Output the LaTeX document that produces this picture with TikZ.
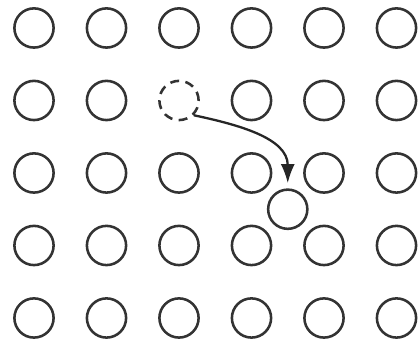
\documentclass[tikz,border=0pt]{standalone}
\usetikzlibrary{arrows.meta}

\begin{document}
\begin{tikzpicture}[
        x=0.9986cm, y=0.9986cm,
        % lattice atom
        atom/.style={circle, draw=black!80, line width=1pt, minimum size=0.54cm, inner sep=0pt},
        vacancy/.style={atom, dash pattern=on 3.5pt off 2.5pt},
        arrow/.style={-{Latex[length=7.5pt,width=5.5pt]}, line width=0.9pt, draw=black!85}
    ]
    \useasboundingbox (-0.469,-0.331) rectangle (5.324,4.386);

    % Gitter (6 x 5), ohne die Leerstelle
    \foreach \c in {0,...,5} {
        \foreach \r in {0,...,4} {
            \ifnum\c=2 \ifnum\r=3 \else
                \node (a-\c-\r) [atom] at (\c,\r) {};
            \fi \else
                \node (a-\c-\r) [atom] at (\c,\r) {};
            \fi
        }
    }

    % Leerstelle und Zwischengitteratom
    \node (vac) [vacancy] at (2,3) {};
    \node (inter) [atom] at (3.5,1.5) {};

    % Sprung
    \draw [arrow] (vac.-45) to[out=-12, in=90] ([yshift=2pt]inter.north);

\end{tikzpicture}
\end{document}
